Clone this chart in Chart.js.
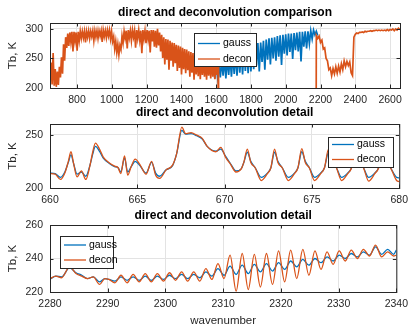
<!DOCTYPE html>
<html>
<head>
<meta charset="utf-8">
<script src="https://cdn.jsdelivr.net/npm/chart.js@4.4.1/dist/chart.umd.min.js"></script>
<style>
  body { margin: 0; background: #fff; }
  #wrap { position: relative; width: 414px; height: 328px; }
  #wrap canvas { position: absolute; left: 0; top: 0; }
</style>
</head>
<body>
<div id="wrap">
  <canvas id="c1" width="414" height="328"></canvas>
  <canvas id="c2" width="414" height="328"></canvas>
  <canvas id="c3" width="414" height="328"></canvas>
</div>
<script>
// ---- panel 1: full spectrum ----
const topXTicks = [800, 1000, 1200, 1400, 1600, 1800, 2000, 2200, 2400, 2600];
const topYTicks = [200, 250, 300];
// decon, first part, sampled every 6 cm-1 from 645
const topDeconStart1 = 645, topDeconStep1 = 6;
const topDeconTb1 = [
  215, 243, 206, 259, 204, 232, 202, 228, 205, 236,
  218, 252, 224, 274, 246, 286, 268, 292, 271, 294,
  278, 295, 262, 295, 279, 294, 263, 295, 280, 296,
  284, 296, 285, 296, 277, 296, 286, 297, 284, 296,
  287, 297, 280, 297, 286, 297, 284, 297, 288, 297,
  278, 298, 287, 297, 285, 298, 288, 298, 283, 296,
  279, 287, 266, 279, 260, 274, 256, 272, 265, 288,
  276, 296, 284, 297, 267, 298, 285, 297, 280, 298,
  286, 297, 268, 298, 284, 298, 281, 297, 259, 298,
  283, 297, 276, 298, 282, 297, 260, 298, 279, 298,
  270, 297, 268, 300, 272, 294, 262, 290, 251, 286,
  240, 283, 248, 282, 231, 280, 246, 277, 236, 276,
  242, 273, 229, 272, 234, 270, 223, 268, 232, 266,
  225, 265, 230, 262, 219, 261, 226, 259, 214, 258,
  223, 257, 220, 256, 215, 255, 222, 254, 219, 253,
  214, 252, 221, 252, 216, 251, 219, 248, 215, 246,
  222, 236
];
// decon is zero across the gap
const topDeconGapWn = [1614, 2174];
const topDeconGapTb = [0, 0];
// decon, second part, every 8 cm-1 from 2176
const topDeconStart2 = 2176, topDeconStep2 = 8;
const topDeconTb2 = [
  289, 284, 288, 277, 281, 266, 268, 250, 246, 231,
  234, 221, 233, 224, 236, 225, 237, 227, 241, 231,
  246, 236, 245, 238, 244, 226, 221, 286, 291, 293,
  292, 294, 294, 295, 294, 296, 295, 296, 296, 297,
  296, 297, 297, 298, 297, 298, 297, 298, 297, 298,
  297, 299, 297, 299, 298, 300, 297, 300, 298, 301,
  299
];
// gauss where it shows (elsewhere it sits under decon), every 8 cm-1 from 1584
const topGaussStart = 1584, topGaussStep = 8;
const topGaussTb = [
  248, 216, 245, 220, 242, 218, 246, 221, 248, 216,
  250, 222, 252, 219, 254, 224, 256, 221, 258, 226,
  261, 223, 263, 229, 266, 225, 268, 228, 270, 232,
  273, 238, 276, 228, 277, 244, 280, 231, 282, 248,
  284, 240, 285, 250, 286, 246, 288, 253, 289, 239,
  290, 258, 291, 255, 292, 261, 292, 249, 293, 264,
  294, 262, 295, 245, 295, 270, 296, 267, 296, 275,
  297, 283, 298, 290, 296, 289
];

// ---- panel 2: 660-680 detail ----
const midXTicks = [660, 665, 670, 675, 680];
const midYTicks = [200, 250];
const midWn = [
  660.0, 660.3, 660.6, 660.85, 661.05, 661.2, 661.35, 661.55, 661.8, 662.05,
  662.3, 662.45, 662.6, 662.85, 663.05, 663.4, 663.7, 663.9, 664.05, 664.27,
  664.45, 664.65, 664.88, 665.15, 665.5, 665.82, 666.05, 666.28, 666.65, 667.02,
  667.25, 667.55, 667.77, 668.08, 668.4, 668.72, 669.0, 669.5, 669.78, 670.05,
  670.35, 670.65, 670.95, 671.1, 671.3, 671.5, 671.75, 672.1, 672.45, 672.65,
  672.86, 673.05, 673.3, 673.65, 674.0, 674.2, 674.42, 674.62, 674.85, 675.15,
  675.5, 675.72, 675.95, 676.15, 676.4, 676.7, 677.05, 677.27, 677.5, 677.7,
  677.95, 678.25, 678.6, 678.82, 679.05, 679.25, 679.5, 679.85, 680.0
];
const midGauss = [
  214, 213.5, 210, 215, 224, 231, 223, 213, 215, 211,
  222, 232, 239, 234, 228, 223, 220, 219, 215, 228,
  215, 220, 225, 221, 214, 224, 214, 211, 217, 221,
  232, 254, 250.5, 251, 249, 246, 239, 234.5, 236.5, 230,
  222.5, 216, 218, 224, 233.5, 225, 219, 210, 214, 219,
  233.5, 225, 219, 210, 214, 219, 234, 225, 219, 210,
  214, 219, 233.5, 225, 219, 210, 214, 219, 233.5, 225,
  219, 210, 214, 219, 233.5, 225, 219, 210, 209.5
];
const midDecon = [
  213.5, 213, 208, 214, 225, 234, 223, 210.5, 216, 208,
  222, 234, 242, 236, 229, 223.5, 220.5, 219, 213.5, 230,
  212, 220, 227, 222, 213, 225, 212, 209, 217, 221.5,
  232, 257, 251, 252, 249.5, 246.5, 239, 234, 238, 229,
  222, 215, 218, 224, 236.5, 224, 219, 207, 213.5, 219,
  236.5, 224, 219, 207, 213.5, 219, 237, 224, 219, 207,
  213.5, 219, 236.5, 224, 219, 207, 213.5, 219, 236.5, 224,
  219, 206.5, 213.5, 219, 236.5, 224, 219, 207, 206
];

// ---- panel 3: 2280-2340 detail ----
const lowXTicks = [2280, 2290, 2300, 2310, 2320, 2330, 2340];
const lowYTicks = [220, 240, 260];
const lowWn = [
  2280, 2281, 2282, 2283.4, 2284.5, 2285.5, 2286.5, 2287.5, 2288.6, 2289.5,
  2290.2, 2291.25, 2292.3, 2293.35, 2294.4, 2295.45, 2296.5, 2297.55, 2298.6, 2299.65,
  2300.7, 2301.75, 2302.8, 2303.85, 2304.9, 2305.95, 2307.0, 2308.05, 2309.1, 2310.15,
  2311.2, 2312.25, 2313.3, 2314.35, 2315.4, 2316.45, 2317.5, 2318.55, 2319.6, 2320.65,
  2321.7, 2322.75, 2323.8, 2324.85, 2325.9, 2326.95, 2328.0, 2329.05, 2330.1, 2331.15,
  2332.2, 2333.25, 2334.3, 2335.35, 2336.4, 2337.45, 2338.5, 2339.55, 2340
];
const lowGauss = [
  227.5, 229.5, 229, 234.5, 231.5, 230, 228, 229, 226, 228,
  227.5, 226.5, 229, 227, 229, 227, 229.5, 227, 229.5, 227.5,
  230, 228, 230.5, 228, 230.5, 228.5, 232, 229.5, 234, 230,
  235.5, 230.5, 236, 231, 236.5, 232, 237, 232.5, 237.5, 233.5,
  238.5, 235, 239.5, 236, 240, 237.5, 241, 238.5, 242, 240,
  243, 241, 244, 242, 247, 242.5, 245.5, 242.5, 245
];
const lowDecon = [
  228, 229.5, 228.5, 235, 231, 229.5, 228, 229, 224.5, 228,
  227.5, 225.5, 230, 225.5, 230.5, 226, 231, 226, 231, 226.5,
  231.5, 227, 232, 226.5, 232, 226.5, 234, 227.5, 237, 228,
  242, 220.5, 243, 221.5, 242.5, 223, 243, 224.5, 244.5, 226,
  245, 228, 245.5, 230, 244.5, 233.5, 244, 236.5, 244.5, 238.5,
  245, 240, 245.5, 241.5, 248, 241, 244, 241.5, 242
];

const FONT = "'Liberation Sans', Arial, Helvetica, sans-serif";
const INK = '#262626';
const GAUSS = '#0072BD';
const DECON = '#D95319';
Chart.defaults.font.family = FONT;
Chart.defaults.color = INK;

function onGrid(start, step, ys) {
  return ys.map((v, i) => ({ x: start + i * step, y: v }));
}
function pairs(xs, ys) {
  return ys.map((v, i) => ({ x: xs[i], y: v }));
}

// box + inward ticks on all four sides, like matlab
const framePlugin = {
  id: 'frame',
  afterDatasetsDraw(chart) {
    const { ctx, chartArea: a, scales: { x, y } } = chart;
    const len = 3.5;
    ctx.save();
    ctx.strokeStyle = INK;
    ctx.lineWidth = 1;
    ctx.beginPath();
    x.ticks.forEach(t => {
      const px = Math.round(x.getPixelForValue(t.value)) + 0.5;
      ctx.moveTo(px, a.bottom); ctx.lineTo(px, a.bottom - len);
      ctx.moveTo(px, a.top); ctx.lineTo(px, a.top + len);
    });
    y.ticks.forEach(t => {
      const py = Math.round(y.getPixelForValue(t.value)) + 0.5;
      ctx.moveTo(a.left, py); ctx.lineTo(a.left + len, py);
      ctx.moveTo(a.right, py); ctx.lineTo(a.right - len, py);
    });
    ctx.stroke();
    ctx.strokeRect(a.left + 0.5, a.top + 0.5, a.right - a.left, a.bottom - a.top);
    ctx.restore();
  }
};

const titlePlugin = {
  id: 'panelTitle',
  afterDraw(chart, args, opts) {
    const { ctx, chartArea: a } = chart;
    ctx.save();
    ctx.font = 'bold 12px ' + FONT;
    ctx.fillStyle = '#000';
    ctx.textAlign = 'center';
    ctx.textBaseline = 'middle';
    ctx.fillText(opts.text, (a.left + a.right) / 2, opts.y);
    ctx.restore();
  }
};

// legend drawn over the data, white box with frame
const boxLegendPlugin = {
  id: 'boxLegend',
  afterDatasetsDraw(chart, args, opts) {
    const { ctx } = chart;
    ctx.save();
    ctx.fillStyle = '#fff';
    ctx.fillRect(opts.x, opts.y, opts.w, opts.h);
    ctx.strokeStyle = INK;
    ctx.lineWidth = 1;
    ctx.strokeRect(opts.x + 0.5, opts.y + 0.5, opts.w, opts.h);
    ctx.font = '10.5px ' + FONT;
    ctx.textBaseline = 'middle';
    chart.data.datasets.forEach((ds, i) => {
      const ry = opts.rows[i];
      ctx.strokeStyle = ds.borderColor;
      ctx.lineWidth = 1.3;
      ctx.beginPath();
      ctx.moveTo(opts.x + 4, ry);
      ctx.lineTo(opts.x + opts.lineLen, ry);
      ctx.stroke();
      ctx.fillStyle = '#000';
      ctx.fillText(ds.label, opts.x + opts.lineLen + 3, ry);
    });
    ctx.restore();
  }
};

function panel(id, o) {
  return new Chart(document.getElementById(id), {
    type: 'line',
    data: {
      datasets: [
        { label: 'gauss', data: o.gauss, borderColor: GAUSS, order: 1 },
        { label: 'decon', data: o.decon, borderColor: DECON, order: 0 }
      ]
    },
    options: {
      responsive: false,
      animation: false,
      events: [],
      parsing: false,
      layout: { padding: { left: 0, right: 14, top: o.top, bottom: 328 - o.bottom - o.xHeight } },
      elements: {
        point: { radius: 0 },
        line: {
          borderWidth: o.lineWidth,
          tension: o.smooth ? 0.4 : 0,
          cubicInterpolationMode: o.smooth ? 'monotone' : 'default'
        }
      },
      plugins: {
        legend: { display: false },
        tooltip: { enabled: false },
        panelTitle: { text: o.title, y: o.titleY },
        boxLegend: o.legend
      },
      scales: {
        x: {
          type: 'linear',
          min: o.xMin,
          max: o.xMax,
          afterBuildTicks: s => { s.ticks = o.xTicks.map(v => ({ value: v })); },
          afterFit: s => { s.height = o.xHeight; },
          grid: { color: '#e3e3e3', drawTicks: false },
          border: { display: false },
          ticks: {
            padding: 6, maxRotation: 0, autoSkip: false,
            font: { size: 10.5 }, color: INK,
            callback: v => String(v)
          },
          title: {
            display: !!o.xTitle,
            text: o.xTitle || '',
            font: { size: 11.5 },
            color: INK,
            padding: { top: 0, bottom: 0 }
          }
        },
        y: {
          type: 'linear',
          min: o.yMin,
          max: o.yMax,
          afterBuildTicks: s => { s.ticks = o.yTicks.map(v => ({ value: v })); },
          afterFit: s => { s.width = 50; },
          grid: { color: '#e3e3e3', drawTicks: false },
          border: { display: false },
          ticks: { padding: 7, font: { size: 10.5 }, color: INK, callback: v => String(v) },
          title: {
            display: true,
            text: 'Tb, K',
            font: { size: 11.5 },
            color: INK,
            padding: { top: 6, bottom: 0 }
          }
        }
      }
    },
    plugins: [framePlugin, boxLegendPlugin, titlePlugin]
  });
}

panel('c1', {
  gauss: onGrid(topGaussStart, topGaussStep, topGaussTb),
  decon: onGrid(topDeconStart1, topDeconStep1, topDeconTb1)
    .concat(pairs(topDeconGapWn, topDeconGapTb))
    .concat(onGrid(topDeconStart2, topDeconStep2, topDeconTb2)),
  smooth: false, lineWidth: 1.7,
  xMin: 645, xMax: 2657, xTicks: topXTicks,
  yMin: 200, yMax: 310, yTicks: topYTicks,
  top: 23, bottom: 88, xHeight: 20,
  title: 'direct and deconvolution comparison', titleY: 13,
  legend: { x: 194, y: 33, w: 62, h: 33, lineLen: 26, rows: [43.5, 59] }
});

panel('c2', {
  gauss: pairs(midWn, midGauss),
  decon: pairs(midWn, midDecon),
  smooth: true, lineWidth: 1.3,
  xMin: 660, xMax: 680, xTicks: midXTicks,
  yMin: 200, yMax: 260, yTicks: midYTicks,
  top: 124, bottom: 188, xHeight: 20,
  title: 'direct and deconvolution detail', titleY: 112.5,
  legend: { x: 328, y: 137, w: 65, h: 30, lineLen: 26, rows: [144.5, 159.5] }
});

panel('c3', {
  gauss: pairs(lowWn, lowGauss),
  decon: pairs(lowWn, lowDecon),
  smooth: true, lineWidth: 1.3,
  xMin: 2280, xMax: 2340, xTicks: lowXTicks,
  yMin: 220, yMax: 260, yTicks: lowYTicks,
  top: 225, bottom: 292, xHeight: 36,
  xTitle: 'wavenumber',
  title: 'direct and deconvolution detail', titleY: 216,
  legend: { x: 60, y: 236, w: 53, h: 32, lineLen: 26, rows: [245, 260] }
});
</script>
</body>
</html>
